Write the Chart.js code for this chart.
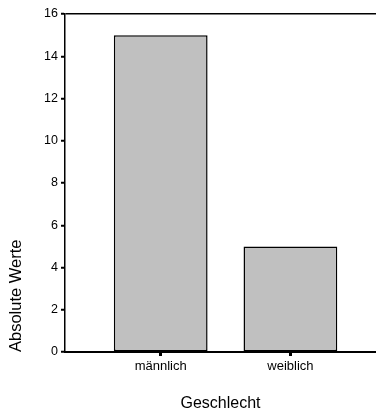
<!DOCTYPE html>
<html>
<head>
<meta charset="utf-8">
<script src="https://cdn.jsdelivr.net/npm/chart.js@4/dist/chart.umd.min.js"></script>
<style>
  html, body { margin: 0; padding: 0; background: #fff; }
  #wrap { width: 376px; height: 412px; position: relative; }
</style>
</head>
<body>
<div id="wrap"><canvas id="c"></canvas></div>
<script>
const categories = ['männlich', 'weiblich'];
const counts = [15, 5];
const yTicksMax = 16;
const yStep = 2;
const xTitle = 'Geschlecht';
const yTitle = 'Absolute Werte';

const FONT = '"Liberation Sans", Arial, sans-serif';

new Chart(document.getElementById('c'), {
  type: 'bar',
  data: {
    datasets: [{
      data: categories.map((c, i) => ({ x: i + 1, y: counts[i] })),
      backgroundColor: '#c0c0c0',
      borderColor: '#000',
      borderWidth: 1.5,
      borderSkipped: false,
      barPercentage: 0.723,
      categoryPercentage: 1
    }]
  },
  options: {
    responsive: true,
    maintainAspectRatio: false,
    animation: false,
    devicePixelRatio: 1,
    layout: { padding: { top: 14, right: 0, left: 0, bottom: 0 } },
    plugins: { legend: { display: false }, tooltip: { enabled: false } },
    scales: {
      x: {
        type: 'linear',
        offset: false,
        min: 0.262,
        max: 2.66,
        afterBuildTicks: s => { s.ticks = categories.map((c, i) => ({ value: i + 1 })); },
        afterFit: s => { s.height = 60; },
        ticks: {
          color: '#000',
          font: { family: FONT, size: 13 },
          padding: 3,
          maxRotation: 0,
          autoSkip: false,
          callback: v => categories[v - 1]
        },
        grid: {
          offset: false,
          drawOnChartArea: false,
          color: 'transparent',
          tickColor: '#000',
          tickLength: 4,
          tickWidth: 3
        },
        border: { display: true, color: '#000', width: 2 },
        title: {
          display: true,
          text: xTitle,
          color: '#000',
          font: { family: FONT, size: 16, lineHeight: 1 },
          padding: { top: 0, bottom: 0 }
        }
      },
      y: {
        min: 0,
        max: yTicksMax,
        afterFit: s => { s.width = 65; },
        ticks: {
          stepSize: yStep,
          color: '#000',
          font: { family: FONT, size: 12.5 },
          padding: 3
        },
        grid: {
          drawOnChartArea: true,
          color: ctx => (ctx.tick && ctx.tick.value === yTicksMax) ? '#000' : 'transparent',
          lineWidth: 1.5,
          tickColor: '#000',
          tickLength: 4,
          tickWidth: 2
        },
        border: { display: true, color: '#000', width: 1.5 },
        title: {
          display: true,
          text: yTitle,
          align: 'start',
          color: '#000',
          font: { family: FONT, size: 16.5, lineHeight: 1 },
          padding: { top: 8, bottom: 0 }
        }
      }
    }
  }
});
</script>
</body>
</html>
